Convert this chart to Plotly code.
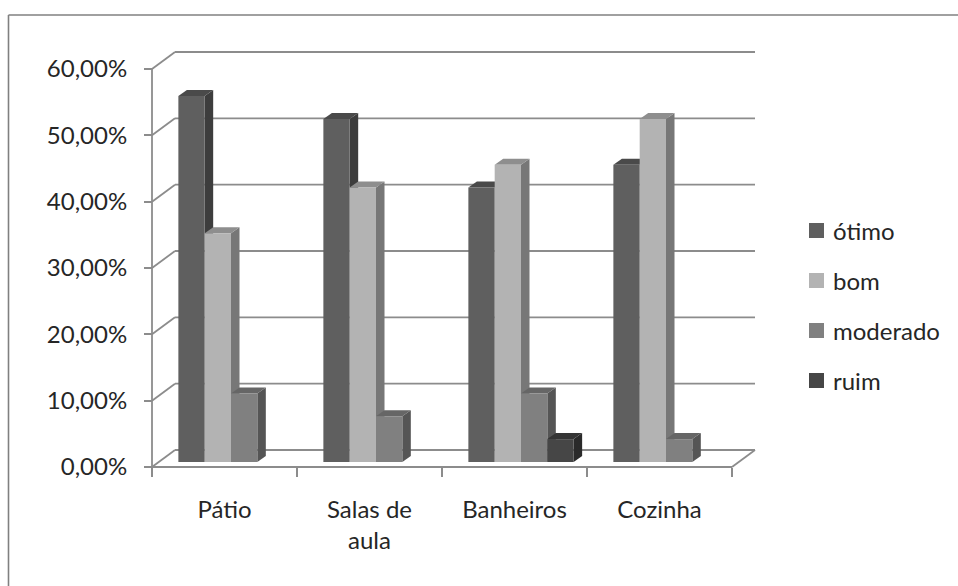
import plotly.graph_objects as go

# ---- data -------------------------------------------------------------
categories = ["Pátio", "Salas de<br>aula", "Banheiros", "Cozinha"]
series_names = ["ótimo", "bom", "moderado", "ruim"]
otimo = [55.17, 51.72, 41.38, 44.83]
bom = [34.48, 41.38, 44.83, 51.72]
moderado = [10.34, 6.90, 10.34, 3.45]
ruim = [0.00, 0.00, 3.45, 0.00]
y_tick_values = [0, 10, 20, 30, 40, 50, 60]
y_tick_labels = ["0,00%", "10,00%", "20,00%", "30,00%", "40,00%", "50,00%", "60,00%"]

series_values = [otimo, bom, moderado, ruim]

# ---- style ------------------------------------------------------------
front_colors = ["#5f5f5f", "#b3b3b3", "#808080", "#464646"]
top_colors = ["#4a4a4a", "#8e8e8e", "#666666", "#353535"]
side_colors = ["#3d3d3d", "#777777", "#555555", "#2a2a2a"]
wall_color = "#8c8c8c"
text_color = "#262626"
FONT = "Lato"

W, H = 958, 586
# front plane of the 3-D box (pixels)
FX0, FX1 = 152, 732
FY_ZERO, FY_TOP = 467, 69
Y_MAX = 60
WALL_DX, WALL_DY = 23, 17        # depth of the box
BAR_DX, BAR_DY = 6.5, 5          # bar front faces sit this far inside the box
BAR_DEPTH_X, BAR_DEPTH_Y = 8.5, 6
BARGAP = 0.274

n = len(categories)
cat_px = (FX1 - FX0) / n
ppu = (FY_ZERO - FY_TOP) / Y_MAX
x_lo = -0.5 - FX0 / cat_px
x_range = [x_lo, x_lo + W / cat_px]
y_lo = -(H - FY_ZERO) / ppu
y_range = [y_lo, y_lo + H / ppu]
# bar plane: same scale, shifted back into the box
x2_range = [v - BAR_DX / cat_px for v in x_range]
y2_range = [v - BAR_DY / ppu for v in y_range]

wdx, wdy = WALL_DX / cat_px, WALL_DY / ppu
bdx, bdy = BAR_DEPTH_X / cat_px, BAR_DEPTH_Y / ppu

shapes = []


def wall_line(x0, y0, x1, y1):
    shapes.append(dict(type="line", xref="x", yref="y", x0=x0, y0=y0, x1=x1, y1=y1,
                       line=dict(color=wall_color, width=1.8), layer="below"))


left, right = -0.5, n - 0.5
for v in y_tick_values:
    wall_line(left, v, left + wdx, v + wdy)                 # side wall
    wall_line(left + wdx, v + wdy, right + wdx, v + wdy)    # back wall
wall_line(left, 0, left, Y_MAX)          # front vertical edge
wall_line(left, 0, right, 0)             # floor front edge
wall_line(right, 0, right + wdx, wdy)    # floor right edge

# top and side faces of each bar
group_w = 1 - BARGAP
bar_w = group_w / len(series_values)
for c in range(n):
    for i, vals in enumerate(series_values):
        v = vals[c]
        if v <= 0:
            continue
        xl = c - group_w / 2 + i * bar_w
        xr = xl + bar_w
        top = (f"M{xl},{v} L{xr},{v} L{xr + bdx},{v + bdy} "
               f"L{xl + bdx},{v + bdy} Z")
        side = (f"M{xr},0 L{xr + bdx},{bdy} L{xr + bdx},{v + bdy} "
                f"L{xr},{v} Z")
        shapes.append(dict(type="path", xref="x2", yref="y2", path=side,
                           fillcolor=side_colors[i], line=dict(width=0), layer="below"))
        shapes.append(dict(type="path", xref="x2", yref="y2", path=top,
                           fillcolor=top_colors[i], line=dict(width=0), layer="below"))

# chart frame
frame_color = "#808080"
shapes.append(dict(type="line", xref="paper", yref="paper", x0=8.5 / W, x1=8.5 / W,
                   y0=-0.1, y1=(H - 15) / H, line=dict(color=frame_color, width=1.6)))
shapes.append(dict(type="line", xref="paper", yref="paper", x0=8.5 / W, x1=1.1,
                   y0=(H - 15) / H, y1=(H - 15) / H, line=dict(color=frame_color, width=1.6)))

# legend
annotations = []
LEG_X, LEG_Y0, LEG_STEP, LEG_SQ = 809, 230.5, 50, 15
for i, name in enumerate(series_names):
    cy = LEG_Y0 + i * LEG_STEP
    shapes.append(dict(type="rect", xref="paper", yref="paper",
                       x0=LEG_X / W, x1=(LEG_X + LEG_SQ) / W,
                       y0=(H - cy - LEG_SQ / 2) / H, y1=(H - cy + LEG_SQ / 2) / H,
                       fillcolor=front_colors[i], line=dict(width=0)))
    annotations.append(dict(xref="paper", yref="paper", x=(LEG_X + LEG_SQ + 7) / W,
                            y=(H - cy) / H, xanchor="left", yanchor="middle",
                            text=name, showarrow=False,
                            font=dict(family=FONT, size=24, color=text_color)))

fig = go.Figure()
for i, (name, vals) in enumerate(zip(series_names, series_values)):
    fig.add_trace(go.Bar(
        x=list(range(n)), y=vals, name=name, xaxis="x2", yaxis="y2",
        marker=dict(color=front_colors[i], line=dict(width=0)),
        customdata=[c.replace("<br>", " ") for c in categories],
        hovertemplate="%{customdata}<br>" + name + ": %{y:.2f}%<extra></extra>",
        showlegend=False,
    ))

fig.update_layout(
    width=W, height=H,
    margin=dict(l=0, r=0, t=0, b=0),
    paper_bgcolor="white", plot_bgcolor="rgba(0,0,0,0)",
    barmode="group", bargap=BARGAP, bargroupgap=0,
    showlegend=False,
    font=dict(family=FONT, size=24, color=text_color),
    xaxis=dict(
        domain=[0, 1], range=x_range, anchor="free", position=(H - FY_ZERO) / H,
        tickmode="array", tickvals=list(range(n)), ticktext=categories, ticks="",
        minor=dict(tickmode="array", tickvals=[k - 0.5 for k in range(n + 1)],
                   ticks="outside", ticklen=9, tickwidth=1.8, tickcolor=wall_color),
        showgrid=False, zeroline=False, showline=False, ticklabelstandoff=26,
        tickfont=dict(family=FONT, size=24, color=text_color),
    ),
    yaxis=dict(
        domain=[0, 1], range=y_range, anchor="free", position=FX0 / W,
        tickmode="array", tickvals=y_tick_values, ticktext=y_tick_labels,
        ticks="outside", ticklen=8, tickwidth=1.8, tickcolor=wall_color,
        showgrid=False, zeroline=False, showline=False, ticklabelstandoff=12,
        tickfont=dict(family=FONT, size=24, color=text_color),
    ),
    xaxis2=dict(range=x2_range, overlaying="x", visible=False),
    yaxis2=dict(range=y2_range, overlaying="y", visible=False),
    shapes=shapes,
    annotations=annotations,
)

fig.write_html("out.html")
